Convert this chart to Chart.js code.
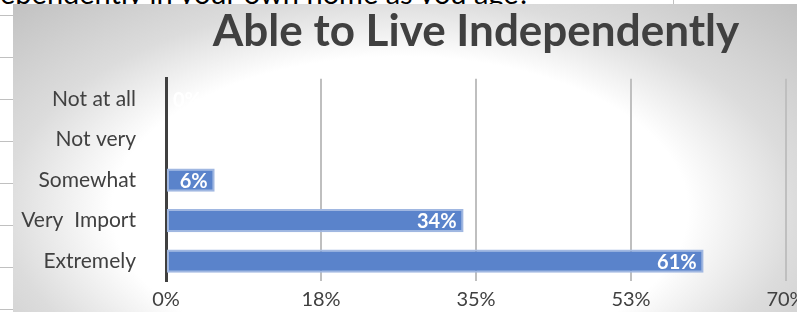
<!DOCTYPE html>
<html>
<head>
<meta charset="utf-8">
<script src="https://cdn.jsdelivr.net/npm/chart.js@4"></script>
<style>
  html, body { margin: 0; padding: 0; width: 797px; height: 312px; overflow: hidden; background: #fff; }
  .hoja { position: absolute; left: 0; top: 0; width: 797px; height: 312px; }
  .linea { position: absolute; left: 0; width: 20px; height: 1px; background: #c0c0c0; }
  .pregunta { position: absolute; left: 0; top: -22px; font-family: Lato, sans-serif; font-size: 29px; line-height: 29px; color: #000; white-space: nowrap; }
  #caja { position: absolute; left: 13px; top: 4px; width: 926px; height: 320px; }
</style>
</head>
<body>
<div class="hoja">
  <div class="pregunta" id="pregunta"><span id="corte">Ind</span>ependently in your own home as you age?</div>
  <div class="linea" style="top:15px"></div>
  <div class="linea" style="top:57px"></div>
  <div class="linea" style="top:99px"></div>
  <div class="linea" style="top:141px"></div>
  <div class="linea" style="top:183px"></div>
  <div class="linea" style="top:225px"></div>
  <div class="linea" style="top:267px"></div>
  <div class="linea" style="top:309px"></div>
  <div style="position:absolute;left:673px;top:0;width:1px;height:6px;background:#c0c0c0"></div>
</div>
<div id="caja"><canvas id="myChart" width="926" height="320"></canvas></div>
<script>
// datos
var categorias = ['Not at all', 'Not very', 'Somewhat', 'Very  Import', 'Extremely'];
var porcentajes = [0, 0, 5.5, 33.6, 60.7];
var ticksX = [0, 17.5, 35, 52.5, 70];

var fuente = 'Lato, "Open Sans", sans-serif';

// el texto de la hoja queda cortado a la izquierda
var corte = document.getElementById('corte');
document.getElementById('pregunta').style.left = (-corte.getBoundingClientRect().width) + 'px';

// fondo con degradado radial como el de excel
var fondoPlugin = {
  id: 'fondo',
  beforeDraw: function(chart) {
    var ctx = chart.ctx;
    var w = chart.width, h = chart.height;
    ctx.save();
    var cx = 387, cy = 206, rx = 600, ry = 320;
    ctx.translate(cx, cy);
    ctx.scale(1, ry / rx);
    var g = ctx.createRadialGradient(0, 0, 0, 0, 0, rx);
    g.addColorStop(0, '#ffffff');
    g.addColorStop(0.48, '#ffffff');
    g.addColorStop(0.66, '#dcdcdc');
    g.addColorStop(1, '#b8b8b8');
    ctx.fillStyle = g;
    ctx.fillRect(-cx, -cy * rx / ry, w, h * rx / ry);
    ctx.restore();
  }
};

// etiquetas de datos dentro de la barra
var etiquetasPlugin = {
  id: 'etiquetas',
  afterDatasetsDraw: function(chart) {
    var ctx = chart.ctx;
    var meta = chart.getDatasetMeta(0);
    ctx.save();
    ctx.font = 'bold 20px ' + fuente;
    ctx.fillStyle = '#ffffff';
    ctx.textBaseline = 'middle';
    meta.data.forEach(function(bar, i) {
      var v = porcentajes[i];
      var txt = Math.round(v) + '%';
      if (v > 0) {
        ctx.textAlign = 'right';
        ctx.fillText(txt, bar.x - 7, bar.y + 1);
      } else {
        ctx.textAlign = 'left';
        ctx.fillText(txt, bar.base + 7, bar.y + 1);
      }
    });
    ctx.restore();
  }
};

var graficar = document.getElementById('myChart');
var grafico = new Chart(graficar, {
  type: 'bar',
  data: {
    labels: categorias,
    datasets: [{
      data: porcentajes,
      backgroundColor: '#5a83cb',
      borderColor: '#a0b7e1',
      borderWidth: 2,
      borderSkipped: false,
      categoryPercentage: 1,
      barPercentage: 0.575
    }]
  },
  options: {
    indexAxis: 'y',
    responsive: false,
    animation: false,
    layout: { padding: { left: 0, right: 0, top: 0, bottom: 11 } },
    plugins: {
      legend: { display: false },
      tooltip: { enabled: false },
      title: {
        display: true,
        text: 'Able to Live Independently',
        color: '#404040',
        font: { family: fuente, size: 44, weight: 'bold' },
        padding: { top: 1, bottom: 21 }
      }
    },
    scales: {
      x: {
        min: 0,
        max: 70,
        afterBuildTicks: function(scale) {
          scale.ticks = ticksX.map(function(v) { return { value: v }; });
        },
        afterFit: function(scale) { scale.height = 30; },
        grid: { color: '#bfbfbf', lineWidth: 2, drawTicks: false },
        border: { display: false },
        ticks: {
          padding: 6,
          color: '#404040',
          font: { family: fuente, size: 20 },
          callback: function(v) { return Math.round(v) + '%'; }
        }
      },
      y: {
        afterFit: function(scale) { scale.width = 153; },
        grid: { display: false, drawTicks: false },
        border: { display: true, color: '#404040', width: 3 },
        ticks: {
          padding: 30,
          color: '#404040',
          font: { family: fuente, size: 21 }
        }
      },
      // eje vacio a la derecha, solo reserva el espacio del area del grafico
      derecha: {
        type: 'linear',
        axis: 'y',
        position: 'right',
        afterFit: function(scale) { scale.width = 153; },
        grid: { display: false, drawTicks: false },
        border: { display: false },
        ticks: { display: false }
      }
    }
  },
  plugins: [fondoPlugin, etiquetasPlugin]
});
</script>
</body>
</html>
